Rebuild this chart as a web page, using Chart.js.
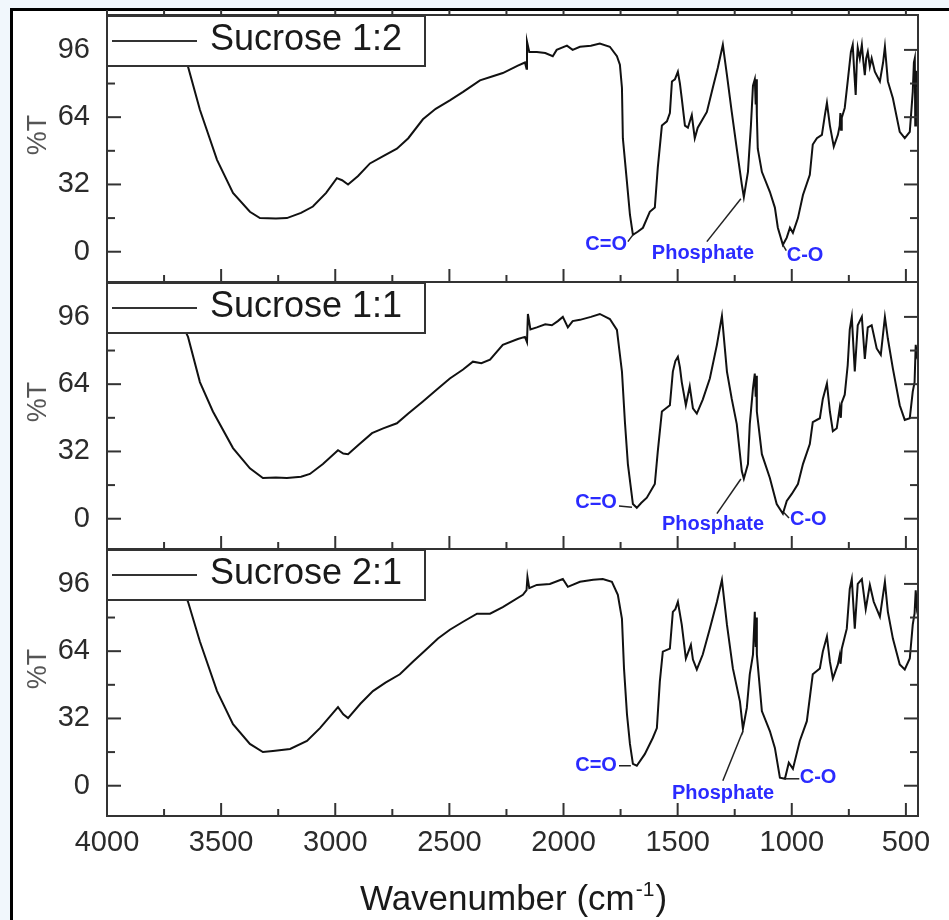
<!DOCTYPE html>
<html lang="en">
<head>
  <meta charset="UTF-8">
  <title>FTIR spectra - Sucrose</title>
  <script src="https://cdn.jsdelivr.net/npm/chart.js@4.4.1/dist/chart.umd.min.js"></script>
  <style>
    body { margin: 0; background: #f1f7fc; }
    #wrap { width: 949px; height: 920px; }
  </style>
</head>
<body>
  <div id="wrap"><canvas id="ftir" width="949" height="920"></canvas></div>

  <script>
    // Series names (one panel each, top to bottom)
    const SERIES_NAMES = ['Sucrose 1:2', 'Sucrose 1:1', 'Sucrose 2:1'];

    // Sucrose 1:2 - wavenumber (cm-1) and %T
    const WN_12 = [3760, 3700, 3645, 3593, 3518, 3448, 3374, 3330, 3260, 3212, 3150, 3098, 3040, 2993, 2970, 2944, 2900, 2848, 2790, 2730,
      2680, 2616, 2560, 2498, 2440, 2366, 2310, 2266, 2200, 2169, 2162, 2160, 2150, 2117, 2080, 2047, 2030, 1985, 1960, 1928,
      1880, 1841, 1797, 1766, 1753, 1744, 1740, 1722, 1709, 1696, 1675, 1652, 1622, 1600, 1587, 1569, 1547, 1534, 1525, 1512,
      1499, 1490, 1482, 1468, 1455, 1438, 1425, 1412, 1372, 1346, 1324, 1302, 1284, 1263, 1241, 1219, 1210, 1192, 1179, 1170,
      1162, 1158, 1156, 1153, 1149, 1131, 1096, 1074, 1061, 1039, 1022, 1008, 995, 973, 951, 921, 908, 890, 868, 855,
      846, 833, 816, 798, 790, 787, 784, 781, 768, 755, 741, 733, 726, 720, 715, 711, 702, 693, 686, 680,
      674, 667, 658, 650, 636, 614, 600, 592, 579, 557, 527, 505, 483, 470, 465, 461, 459, 456, 452, 447];
    const T_12 = [112, 100, 88, 67.5, 43.7, 28, 19, 16, 15.8, 16, 18.5, 21.5, 28, 35, 34, 32, 36, 42, 45.5, 49,
      54, 63, 68, 72, 76, 81.5, 83.5, 85, 88.5, 90, 87, 100, 95, 95, 94.5, 93, 96, 98, 96, 97.5,
      98, 99, 97.5, 93, 89, 78, 54, 33, 17.6, 8, 9.5, 11.4, 19, 21, 40, 60, 62, 66, 81, 82,
      85.6, 80, 73, 60, 59, 65, 54, 59, 66.5, 78, 87.5, 98.4, 84, 66.5, 49, 32, 26, 38, 60, 79,
      82, 70, 82, 65, 49, 38, 28.5, 21, 11.4, 3.3, 6.7, 11.4, 9, 16, 27, 36.6, 51, 54, 55.6, 65,
      70.8, 60, 50, 55.6, 60, 66, 58, 63.7, 68.4, 81, 95, 98.4, 85, 74.6, 90, 97, 92, 98.4, 90, 84,
      92, 95, 88, 92, 85.6, 81, 90, 97.5, 81, 73, 57, 54, 57, 76, 90, 92, 60, 86, 80, 82];

    // Sucrose 1:1
    const WN_11 = [3760, 3700, 3645, 3593, 3536, 3448, 3374, 3317, 3260, 3212, 3150, 3111, 3054, 2988, 2965, 2944, 2900, 2839, 2790, 2730,
      2680, 2616, 2560, 2498, 2440, 2397, 2360, 2322, 2266, 2200, 2169, 2160, 2156, 2145, 2117, 2080, 2051, 2025, 2003, 1981,
      1960, 1928, 1880, 1841, 1797, 1766, 1753, 1744, 1731, 1718, 1696, 1679, 1660, 1635, 1600, 1587, 1569, 1534, 1521, 1510,
      1499, 1490, 1482, 1464, 1447, 1433, 1416, 1390, 1359, 1328, 1306, 1284, 1263, 1241, 1219, 1210, 1192, 1184, 1170, 1162,
      1158, 1156, 1153, 1131, 1096, 1066, 1039, 1022, 1000, 973, 951, 921, 908, 877, 864, 846, 833, 820, 803, 790,
      785, 782, 768, 755, 746, 737, 724, 711, 693, 680, 667, 650, 628, 610, 592, 579, 557, 527, 505, 483,
      470, 462, 457, 452, 447];
    const T_11 = [112, 99, 86.5, 65, 51, 33.6, 24, 19.4, 19.6, 19.4, 20, 21.3, 26, 32.6, 31, 30.7, 35, 40.7, 43, 45.4,
      50, 55.8, 61, 66.7, 71, 74.7, 74, 75.7, 82.7, 85.5, 86.5, 84, 97.4, 90, 91, 92.5, 92, 94, 96, 91,
      94, 94.6, 96, 97.4, 95, 89.8, 78, 70, 46, 26, 7, 5.2, 7.5, 10, 16.5, 32, 51, 54, 70, 75,
      77, 72, 65, 54, 63, 52.5, 50, 56.7, 66.7, 82.7, 96.5, 70, 57, 45, 22.7, 19, 26, 45, 62, 69,
      58, 68, 51, 30.7, 19.4, 7, 2.4, 8.5, 11.8, 16.5, 26, 35.5, 46, 47.8, 57, 64.3, 51, 41.6, 43, 52.5,
      48, 55, 59, 73, 90, 96, 70, 92, 96, 76, 91, 92, 81, 78, 96, 85.6, 71.4, 54, 47, 47.8,
      60.5, 65, 82.7, 78, 80];

    // Sucrose 2:1
    const WN_21 = [3760, 3700, 3645, 3593, 3518, 3448, 3374, 3317, 3273, 3198, 3124, 3067, 2988, 2965, 2944, 2890, 2835, 2780, 2717, 2660,
      2598, 2550, 2498, 2440, 2379, 2322, 2266, 2178, 2162, 2158, 2150, 2117, 2060, 2003, 1981, 1928, 1870, 1828, 1788, 1762,
      1744, 1735, 1722, 1709, 1696, 1679, 1644, 1609, 1591, 1578, 1565, 1534, 1521, 1510, 1499, 1482, 1464, 1442, 1433, 1416,
      1390, 1359, 1328, 1306, 1284, 1258, 1227, 1214, 1197, 1184, 1170, 1162, 1158, 1156, 1153, 1131, 1096, 1074, 1052, 1030,
      1013, 995, 965, 934, 908, 877, 864, 846, 833, 820, 798, 790, 786, 781, 759, 746, 737, 724, 711, 693,
      676, 658, 641, 614, 592, 579, 557, 527, 505, 483, 470, 462, 457, 452, 447];
    const T_21 = [112, 101, 87.5, 68.6, 45, 29.3, 19.9, 16, 16.5, 17.5, 21.3, 27.4, 37.4, 34, 32.2, 39, 45, 49, 53, 59,
      65.2, 70, 74.2, 78, 81.8, 81.8, 85, 90.8, 93, 99.3, 94, 95.5, 96, 98.3, 94.6, 97, 98, 98.3, 97, 90.8,
      79.4, 55.8, 34, 19.9, 10.4, 9.5, 15, 22.7, 27.4, 49.6, 63.8, 65.2, 82.7, 84, 87.5, 76.6, 60.5, 67, 60, 55.3,
      62.4, 74.7, 87.5, 97.9, 76.6, 55.8, 40, 27, 37, 53, 62.4, 82.7, 66, 80, 62.4, 35.5, 26, 18, 3.8, 3.3,
      10.9, 8, 21.3, 30.7, 53, 55.8, 63.8, 71, 59, 51, 57.7, 62, 58, 65.2, 74.7, 93.6, 98.3, 74.7, 96, 98.3,
      84, 95.5, 87.5, 80.4, 97, 82.7, 70, 57.7, 55.3, 60.5, 76.6, 82, 93, 85, 88];

    // Axis ticks
    const X_TICKS = [4000, 3500, 3000, 2500, 2000, 1500, 1000, 500];
    const X_MINOR = [3750, 3250, 2750, 2250, 1750, 1250, 750];
    const Y_TICKS = [0, 32, 64, 96];
    const Y_MINOR = [16, 48, 80];

    // Band labels per series (wavenumber / %T anchor of each label and its leader line)
    const BAND_LABELS = [
      [
        { text: 'C=O', wn: 1722, t: 3.3, align: 'right', lead: [[1718, 4.8], [1696, 8]] },
        { text: 'Phosphate', wn: 1613, t: -1, align: 'left', lead: [[1372, 4.8], [1223, 25.2]] },
        { text: 'C-O', wn: 1022, t: -1.9, align: 'left', lead: [[1039, 3.3], [1024, 0.5]] }
      ],
      [
        { text: 'C=O', wn: 1766, t: 7.6, align: 'right', lead: [[1757, 6.1], [1700, 5.5]] },
        { text: 'Phosphate', wn: 1569, t: -2.8, align: 'left', lead: [[1328, 2.4], [1223, 18.9]] },
        { text: 'C-O', wn: 1008, t: -0.5, align: 'left', lead: [[1035, 3], [1012, 0.3]] }
      ],
      [
        { text: 'C=O', wn: 1766, t: 9.5, align: 'right', lead: [[1757, 9.5], [1705, 9.5]] },
        { text: 'Phosphate', wn: 1525, t: -3.8, align: 'left', lead: [[1302, 2.4], [1214, 26]] },
        { text: 'C-O', wn: 965, t: 3.8, align: 'left', lead: [[1030, 3.3], [967, 3.3]] }
      ]
    ];

    const FONT = '"Liberation Sans", Arial, sans-serif';

    const toPoints = (wn, t) => wn.map((w, i) => ({ x: w, y: t[i] }));

    function yAxis() {
      return {
        type: 'linear',
        position: 'left',
        stack: 'panels',
        stackWeight: 1,
        min: -14.4,
        max: 112.6,
        afterBuildTicks: s => { s.ticks = Y_TICKS.map(v => ({ value: v })); },
        afterFit: s => { s.width = 107; s.paddingTop = 0; s.paddingBottom = 0; },
        grid: { display: false, drawTicks: false },
        border: { display: false },
        ticks: { padding: 17, color: '#2b2b2b', font: { family: FONT, size: 29 } }
      };
    }

    // frames, inward ticks, legend boxes, band labels and axis titles
    const irFrame = {
      id: 'irFrame',
      beforeDraw(chart) {
        const c = chart.ctx;
        c.save();
        c.fillStyle = '#f1f7fc';
        c.fillRect(0, 0, chart.width, chart.height);
        c.fillStyle = '#ffffff';
        c.fillRect(12, 10, chart.width - 12, chart.height - 10);
        c.strokeStyle = '#000';
        c.lineWidth = 3;
        c.beginPath();
        c.moveTo(11.5, chart.height);
        c.lineTo(11.5, 9.5);
        c.lineTo(chart.width, 9.5);
        c.stroke();
        c.restore();
      },
      afterDatasetsDraw(chart) {
        const c = chart.ctx;
        const x = chart.scales.x;
        const line = (x1, y1, x2, y2) => { c.beginPath(); c.moveTo(x1, y1); c.lineTo(x2, y2); c.stroke(); };
        const topMost = Math.min(...chart.data.datasets.map(ds => chart.scales[ds.yAxisID].top));
        c.save();
        c.strokeStyle = '#333';
        c.lineWidth = 2;

        chart.data.datasets.forEach((ds, i) => {
          const y = chart.scales[ds.yAxisID];
          const top = y.top, bottom = y.bottom;

          // ticks pointing into the panel
          X_TICKS.forEach(v => { const px = x.getPixelForValue(v); line(px, bottom, px, bottom - 13); });
          X_MINOR.forEach(v => { const px = x.getPixelForValue(v); line(px, bottom, px, bottom - 7); });
          if (top === topMost) {
            X_TICKS.concat(X_MINOR).forEach(v => { const px = x.getPixelForValue(v); line(px, top, px, top - 5); });
          }
          Y_TICKS.forEach(v => {
            const py = y.getPixelForValue(v);
            line(x.left, py, x.left + 14, py);
            line(x.right, py, x.right - 14, py);
          });
          Y_MINOR.forEach(v => {
            const py = y.getPixelForValue(v);
            line(x.left, py, x.left + 8, py);
            line(x.right, py, x.right - 8, py);
          });

          // band labels
          c.save();
          c.lineWidth = 1.5;
          c.strokeStyle = '#222';
          c.fillStyle = '#2b2bff';
          c.font = 'bold 20px ' + FONT;
          c.textBaseline = 'middle';
          BAND_LABELS[i].forEach(b => {
            const [p, q] = b.lead;
            line(x.getPixelForValue(p[0]), y.getPixelForValue(p[1]), x.getPixelForValue(q[0]), y.getPixelForValue(q[1]));
            c.textAlign = b.align;
            c.fillText(b.text, x.getPixelForValue(b.wn), y.getPixelForValue(b.t));
          });
          c.restore();

          // legend box
          const bx = x.left, by = top + 1, bw = 318, bh = 50;
          c.fillStyle = '#fff';
          c.fillRect(bx, by, bw, bh);
          c.strokeRect(bx, by, bw, bh);
          line(bx + 5, by + bh / 2, bx + 90, by + bh / 2);
          c.fillStyle = '#1a1a1a';
          c.font = '36px ' + FONT;
          c.textAlign = 'left';
          c.textBaseline = 'middle';
          c.fillText(ds.label, bx + 103, by + bh / 2 - 1);

          // panel frame
          c.strokeRect(x.left, top, x.right - x.left, bottom - top);

          // %T
          c.save();
          c.translate(39, top + 120);
          c.rotate(-Math.PI / 2);
          c.fillStyle = '#555';
          c.font = '27px ' + FONT;
          c.textAlign = 'center';
          c.textBaseline = 'middle';
          c.fillText('%T', 0, 0);
          c.restore();
        });

        // x axis title with superscript
        c.fillStyle = '#1a1a1a';
        c.textBaseline = 'alphabetic';
        c.textAlign = 'left';
        const big = '35px ' + FONT, small = '21px ' + FONT;
        c.font = big;
        const w1 = c.measureText('Wavenumber (cm').width;
        const w3 = c.measureText(')').width;
        c.font = small;
        const w2 = c.measureText('-1').width;
        const sx = (x.left + x.right) / 2 - (w1 + w2 + w3) / 2;
        const base = 910;
        c.font = big;
        c.fillText('Wavenumber (cm', sx, base);
        c.font = small;
        c.fillText('-1', sx + w1 + 1, base - 14);
        c.font = big;
        c.fillText(')', sx + w1 + w2 + 2, base);
        c.restore();
      }
    };

    const lineStyle = { borderColor: '#111', borderWidth: 2, pointRadius: 0, tension: 0, fill: false };

    new Chart(document.getElementById('ftir'), {
      type: 'line',
      data: {
        datasets: [
          { label: SERIES_NAMES[0], data: toPoints(WN_12, T_12), yAxisID: 'yTop', ...lineStyle },
          { label: SERIES_NAMES[1], data: toPoints(WN_11, T_11), yAxisID: 'yMid', ...lineStyle },
          { label: SERIES_NAMES[2], data: toPoints(WN_21, T_21), yAxisID: 'yBot', ...lineStyle }
        ]
      },
      options: {
        responsive: false,
        animation: false,
        layout: { padding: { top: 15, right: 31, left: 0, bottom: 0 } },
        plugins: { legend: { display: false }, tooltip: { enabled: false } },
        scales: {
          x: {
            type: 'linear',
            reverse: true,
            min: 447,
            max: 4000,
            afterBuildTicks: s => { s.ticks = X_TICKS.map(v => ({ value: v })); },
            afterFit: s => { s.height = 104; s.paddingLeft = 0; s.paddingRight = 0; },
            grid: { display: false, drawTicks: false },
            border: { display: false },
            ticks: {
              padding: 10, maxRotation: 0, autoSkip: false, color: '#2b2b2b',
              font: { family: FONT, size: 29 },
              callback: v => String(v)
            }
          },
          // stacked axes are laid out bottom-up in declaration order
          yBot: yAxis(),
          yMid: yAxis(),
          yTop: yAxis()
        }
      },
      plugins: [irFrame]
    });
  </script>
</body>
</html>
